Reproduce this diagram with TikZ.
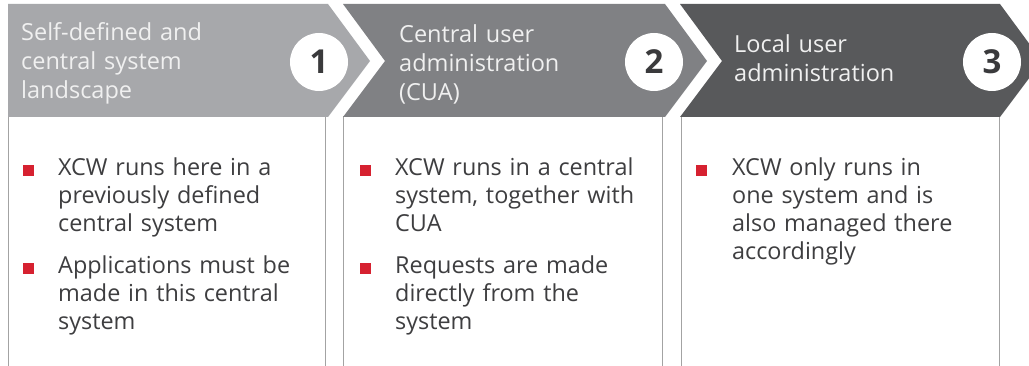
\documentclass[tikz,border=0pt]{standalone}
\usepackage{fontspec}
\setmainfont{Open Sans}
\definecolor{cA}{HTML}{A7A8AB}
\definecolor{cB}{HTML}{808184}
\definecolor{cC}{HTML}{58595B}
\definecolor{hdr}{HTML}{F0F0F0}
\definecolor{body}{HTML}{3E3E40}
\definecolor{bul}{HTML}{D62130}
\definecolor{num}{HTML}{3A3A3C}
\definecolor{frame}{HTML}{A3A3A3}
\tikzset{
  hdrtext/.style={anchor=base west, inner sep=0pt, text width=250pt, align=left, text=hdr,
    font=\fontsize{23.5}{29}\selectfont},
  numcirc/.style={circle, fill=white, minimum size=58pt, inner sep=0pt, text=num,
    font=\fontsize{33}{33}\selectfont\bfseries},
  col/.style={draw=frame, line width=1pt},
  bodytext/.style={anchor=base west, inner sep=0pt, text width=290pt, align=left, text=body,
    font=\fontsize{23.4}{28}\selectfont},
  bulletsq/.style={fill=bul, draw=none, minimum size=11pt, inner sep=0pt}
}
\begin{document}
\begin{tikzpicture}[x=1pt,y=-1pt]
\useasboundingbox (0,0) rectangle (1029,366);
\clip (0,0) rectangle (1029,366);
\fill[white] (0,0) rectangle (1029,366);
% columns
\draw[col] (8,367) -- (8,117) -- (325,117) -- (325,367);
\draw[col] (343,367) -- (343,117) -- (662,117) -- (662,367);
\draw[col] (681,367) -- (681,117) -- (999,117) -- (999,367);
% chevrons
\fill[cA] (8,4) -- (328,4) -- (370,61) -- (328,117) -- (8,117) -- cycle;
\fill[cB] (343,4) -- (665,4) -- (707,61) -- (665,117) -- (343,117) -- (385,61) -- cycle;
\fill[cC] (680,4) -- (1000,4) -- (1042,61) -- (1000,117) -- (680,117) -- (722,61) -- cycle;
% headers
\node[hdrtext] (h1) at (21,41) {Self-defined and\\central system\\landscape};
\node[hdrtext] (h2) at (399,43) {Central user\\administration\\(CUA)};
\node[hdrtext] (h3) at (734,53) {Local user\\administration};
% numbers
\node[numcirc] (n1) at (319,62) {1};
\node[numcirc] (n2) at (654,62) {2};
\node[numcirc] (n3) at (992,62) {3};
% column 1
\node[bulletsq] (b11) at (28,171) {};
\node[bodytext] (t11) at (58,176) {XCW runs here in a\\previously defined\\central system};
\node[bulletsq] (b12) at (28,269) {};
\node[bodytext] (t12) at (58,274) {Applications must be\\made in this central\\system};
% column 2
\node[bulletsq] (b21) at (365,171) {};
\node[bodytext] (t21) at (395,176) {XCW runs in a central\\system, together with\\CUA};
\node[bulletsq] (b22) at (365,269) {};
\node[bodytext] (t22) at (395,274) {Requests are made\\directly from the\\system};
% column 3
\node[bulletsq] (b31) at (701,171) {};
\node[bodytext] (t31) at (732,176) {XCW only runs in\\one system and is\\also managed there\\accordingly};
\end{tikzpicture}
\end{document}
